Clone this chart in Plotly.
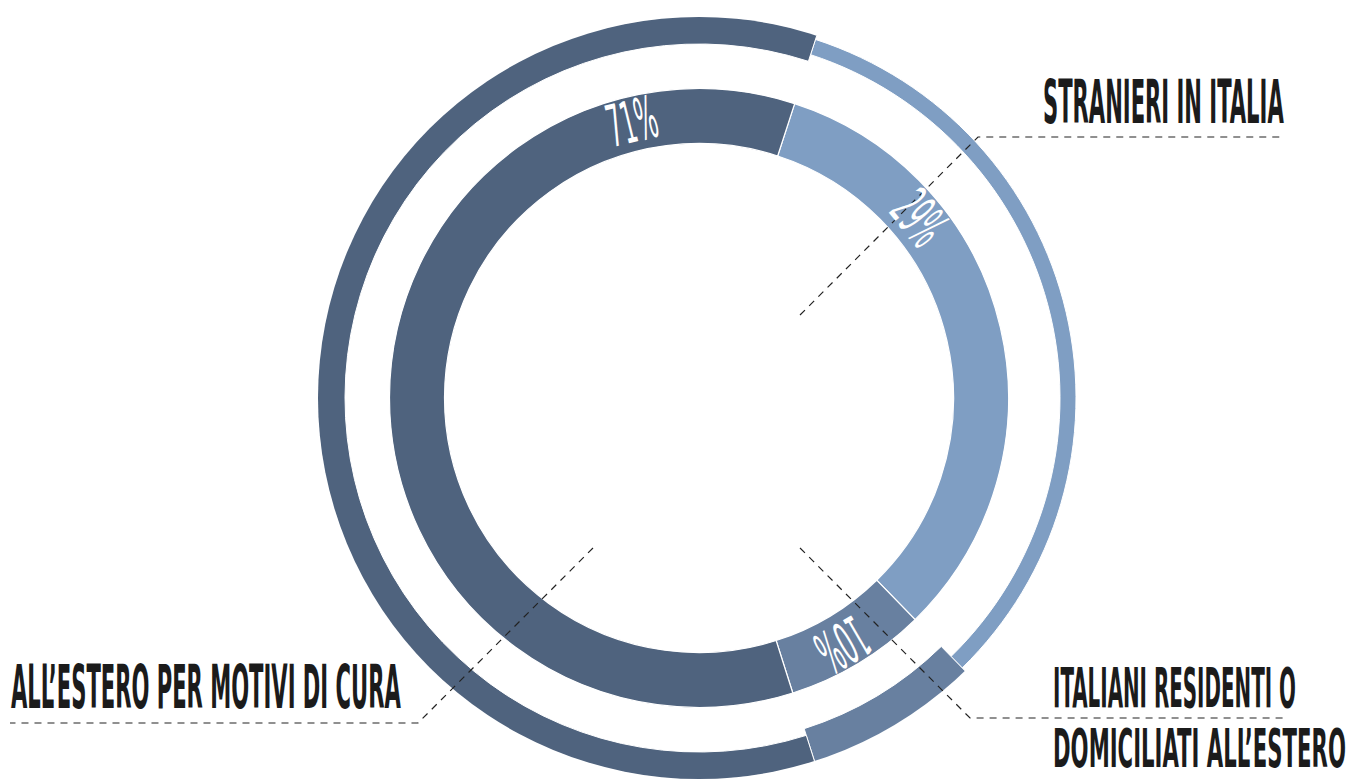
import json
import math

import plotly.graph_objects as go

# ---------------------------------------------------------------------------
# Data
# ---------------------------------------------------------------------------
categories = [
    "STRANIERI IN ITALIA",
    "ITALIANI RESIDENTI O DOMICILIATI ALL’ESTERO",
    "ALL’ESTERO PER MOTIVI DI CURA",
]
# share of the circle taken by each arc (percent, clockwise)
arc_share = [32.7, 7.4, 59.9]
# value printed on each arc
pct_labels = ["29%", "10%", "71%"]

# ---------------------------------------------------------------------------
# Styling / geometry
# ---------------------------------------------------------------------------
W, H = 1363, 779
CX, CY = 699, 398           # ring centre in pixels
R_MAX = 381                 # radius of the polar area in pixels
START_ANGLE = 18.0          # first arc starts here (deg, clockwise from 12 o'clock)

colors = ["#7f9ec3", "#6880a0", "#4f637e"]

inner_base, inner_thick = 254.5, 55.0
outer_base = [361.0, 347.0, 354.0]
outer_thick = [16.0, 40.0, 28.0]

pct_angle = [50.7, 149.8, -13.7]   # where the percentages sit on the inner ring
pct_radius = 284

BIG_FONT = "Liberation Sans Narrow, DejaVu Sans Condensed, Liberation Sans, sans-serif"
TEXT_COLOR = "#1b1b1b"

# ---------------------------------------------------------------------------
# Arc geometry from the shares
# ---------------------------------------------------------------------------
total = sum(arc_share)
spans = [s / total * 360.0 for s in arc_share]
centers = []
a = START_ANGLE
for s in spans:
    centers.append(a + s / 2.0)
    a += s

fig = go.Figure()

# inner ring
fig.add_trace(go.Barpolar(
    theta=centers,
    width=spans,
    base=[inner_base] * len(spans),
    r=[inner_thick] * len(spans),
    marker=dict(color=colors, line=dict(color="white", width=1.2)),
    hoverinfo="skip",
))

# outer ring (band thickness differs per category)
fig.add_trace(go.Barpolar(
    theta=centers,
    width=spans,
    base=outer_base,
    r=outer_thick,
    marker=dict(color=colors, line=dict(color="white", width=1.0)),
    hoverinfo="skip",
))


def to_paper(px, py):
    return px / W, 1 - py / H


def polar_to_paper(angle_deg, r):
    t = math.radians(angle_deg)
    return to_paper(CX + r * math.sin(t), CY - r * math.cos(t))


annotations = []
text_lengths = {}

# percentages on the inner ring, following the ring's tangent
for lab, ang in zip(pct_labels, pct_angle):
    x, y = polar_to_paper(ang, pct_radius)
    annotations.append(dict(
        x=x, y=y, xref="paper", yref="paper", text=lab, showarrow=False,
        xanchor="center", yanchor="middle", textangle=ang, borderpad=0,
        font=dict(family=BIG_FONT, size=58, color="white"),
    ))
    text_lengths[lab] = 50

# category titles (left edge, cap middle, printed width, font size)
titles = [
    ("STRANIERI IN ITALIA", 1042, 101, 241, 61),
    ("ALL’ESTERO PER MOTIVI DI CURA", 10, 686, 390, 61),
    ("ITALIANI RESIDENTI O", 1052, 687, 243, 56),
    ("DOMICILIATI ALL’ESTERO", 1052, 748.5, 293, 54),
]
for txt, left, mid, length, size in titles:
    x, y = to_paper(left, mid)
    annotations.append(dict(
        x=x, y=y, xref="paper", yref="paper", text=txt, showarrow=False,
        xanchor="left", yanchor="middle", align="left", borderpad=0,
        font=dict(family=BIG_FONT, size=size, color=TEXT_COLOR, weight="bold"),
    ))
    text_lengths[txt] = length

# dashed leader lines
leaders = [
    [(800, 315), (978, 137), (1285, 137)],
    [(593, 548), (418, 723), (10, 723)],
    [(800, 548), (970, 718), (1283, 718)],
]
shapes = []
for pts in leaders:
    p = [to_paper(*q) for q in pts]
    path = "M {} {} ".format(*p[0]) + " ".join("L {} {}".format(*q) for q in p[1:])
    shapes.append(dict(
        type="path", xref="paper", yref="paper", path=path,
        line=dict(color="#222222", width=1.2, dash="7px,6px"),
    ))

fig.update_layout(
    width=W, height=H,
    margin=dict(l=0, r=0, t=0, b=0),
    paper_bgcolor="white",
    plot_bgcolor="white",
    showlegend=False,
    polar=dict(
        domain=dict(x=[(CX - R_MAX) / W, (CX + R_MAX) / W],
                    y=[1 - (CY + R_MAX) / H, 1 - (CY - R_MAX) / H]),
        bgcolor="rgba(0,0,0,0)",
        barmode="overlay",
        radialaxis=dict(range=[0, R_MAX], visible=False, showgrid=False),
        angularaxis=dict(rotation=90, direction="clockwise", visible=False,
                         showgrid=False),
    ),
    annotations=annotations,
    shapes=shapes,
)

# condense the lettering horizontally to its printed width (scale about the anchor)
post_js = """
var gd = document.getElementById('{plot_id}');
var L = %s;
function squeeze() {
  gd.querySelectorAll('text.annotation-text').forEach(function (t) {
    var k = t.textContent;
    if (!L[k] || t.getAttribute('data-squeezed')) { return; }
    var bb = t.getBBox();
    if (!bb.width) { return; }
    var s = L[k] / bb.width;
    var anchor = t.getAttribute('text-anchor') || 'middle';
    var x0 = (anchor === 'start') ? bb.x : bb.x + bb.width / 2;
    var prev = t.getAttribute('transform') || '';
    t.setAttribute('transform', prev + ' translate(' + x0 + ',0) scale(' + s + ',1) translate(' + (-x0) + ',0)');
    t.setAttribute('data-squeezed', '1');
    var bg = t.parentNode.querySelector('rect.bg');
    if (bg) {
      var w0 = parseFloat(bg.getAttribute('width')) || 0;
      var bx = parseFloat(bg.getAttribute('x')) || 0;
      if (anchor !== 'start') { bg.setAttribute('x', bx + (w0 - L[k]) / 2); }
      bg.setAttribute('width', L[k]);
    }
  });
}
squeeze();
gd.on('plotly_afterplot', squeeze);
""" % json.dumps(text_lengths, ensure_ascii=False)

fig.write_html("out.html", config={"displayModeBar": False}, post_script=post_js)
